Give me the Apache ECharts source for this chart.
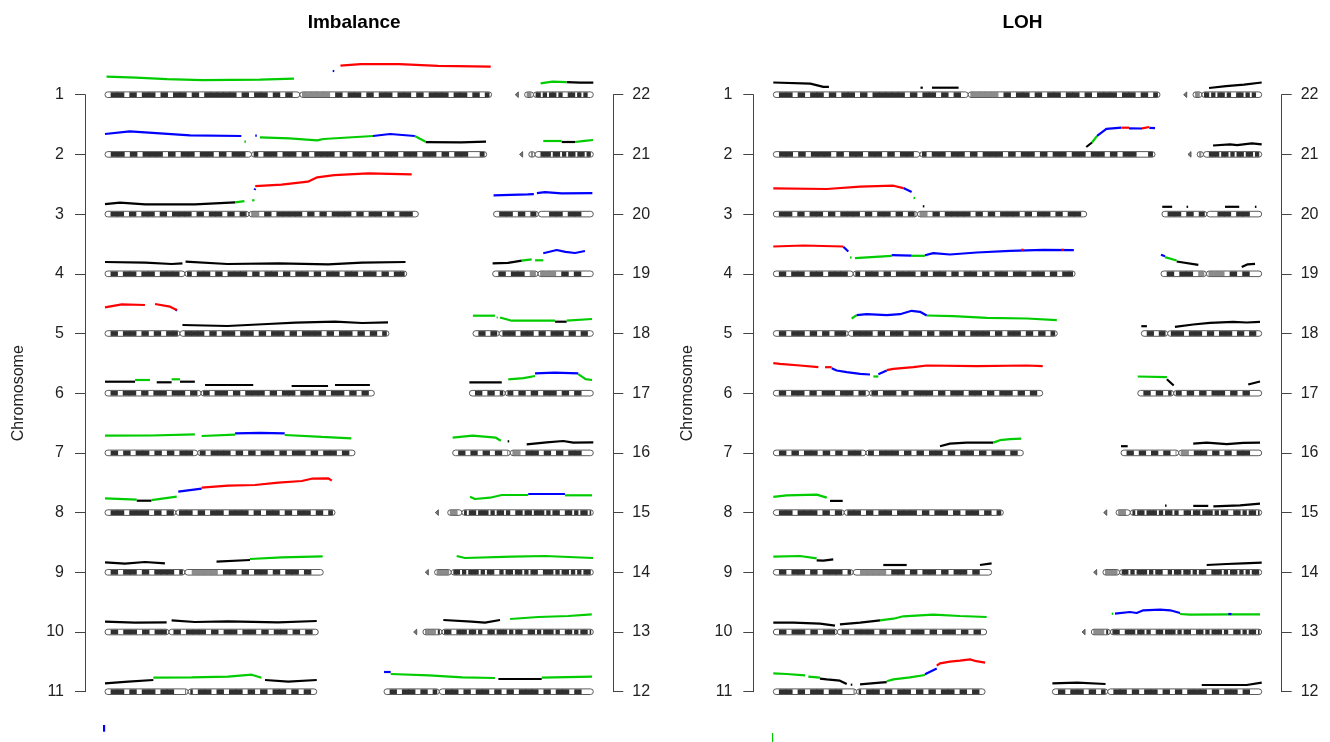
<!DOCTYPE html>
<html><head><meta charset="utf-8">
<script src="https://cdn.jsdelivr.net/npm/echarts/dist/echarts.min.js"></script>
<style>html,body{margin:0;padding:0;background:#fff}#c{width:1330px;height:742px}</style>
</head><body><div id="c"></div>
<script>
// ---------------- data ----------------
const TITLES = ['Imbalance', 'LOH'];
const AXIS_NAME = 'Chromosome';
const LEFT_TICKS = [1, 2, 3, 4, 5, 6, 7, 8, 9, 10, 11];
const RIGHT_TICKS = [12, 13, 14, 15, 16, 17, 18, 19, 20, 21, 22];
// chromosome lengths (Mb) and centromere positions (Mb), chromosomes 1..22
const CHR_LEN = [249.6, 246.4, 202.3, 194.8, 183.3, 173.9, 161.4, 148.5, 140.9, 137.7, 136.7,
                 135.1, 116, 108.5, 102, 90.8, 80, 77.7, 65, 64.4, 47.6, 50.4];
const CHR_CEN = [125.8, 94.6, 93, 51.6, 48.4, 62, 59.8, 45.8, 51.6, 41.3, 53.7,
                 35.7, 18.3, 16.8, 17.2, 37.2, 23.2, 17, 29.3, 29, 10, 11.8];
// band pattern: d = dark, g = grey, . = light, space = gap (acrocentric stalk)
const BANDS = [
  '.dd.d.dd.d.dd.d.ddddd.d.dd.d.d.ggggg.d.dd.d.dd.dd.d.ddd.dd.d.d',
  '.dd.d.ddd.d.dd.dd.d.dd.d.dd.dd.d.ddd.d.dd.d.dd.dd.dd.d.dd..d',
  '.dd.d.dd.d.ddd.d.dd.d.dgg.d.dddd.d.d.ddd.d.dd.d.dd.',
  '.d.dd.dd.ddd.d.dd.d.ddd.d.dd.d.dd.d.dd.dd.dd.d.dd',
  '.d.dd.d.d.dd.ddd.d.dd.dd.d.dd.d.ddd.d.dd.d.d.d',
  '.d.dd.d.dd.dd.d.d.dd.d.ddd.d.dd.dd.d.dd.d.d.',
  '.d.d.dd.d.d.dd.d.ddd.d.d.dd.d.dd.d.dd.d.',
  '.dd.ddd.d.d.dd.d.dd.ddd.d.dd.d.dd.d.d',
  '.d.dd.d.ddd.d.gggg.dd.d.dd.d.dd.d..',
  '.d.dd.d.dd.d.ddd.d.dd.dd.d.dd.d.d.',
  '.dd.d.dd.dd..d.dd.d.dd.d.d.dd.d.d.',
  '.d.dd.d.d.dd.d.dd.d.d.ddd.d.dd.d..',
  'g  gggg.d.dd..ddd.dd.d..dd.ddd.d.dd..dd.d.ddd.d..dd.d.dd.d',
  'g  ggggg.dd.d.ddd.d.dd..d.dd.dd.d.dd..ddd.d.dd.d.d.dd.',
  'g   ggg..d.dd.ddd.d.dd.d..dd.dd.ddd.d.dd..dd.d.dd.d',
  '.d.d.d.d.gg.dd.d.d.dd..',
  '.d.d.dd.d.d.dd.d.d..',
  '.d.d.dd.dd.d.dd.d.d.',
  '.d.dd.gggg.d.d..',
  '.dd.d.d..dd.dd..',
  'g  gg..ddd.dd.d.dd.dd.d.',
  'g  gg.dd.d.dd.d..dd.d.d..'
];
const LEVEL_PER_ROW = 59.7;   // signal units spanned by one chromosome row

// traces: [colour, pos, level, pos, level, ...]   (pos in Mb along the chromosome)
const imb1 = [['g',1,18, 20,17, 40,15.5, 63,14.5, 100,15, 122,16], ['b',147,23.7, 148,23.7],
  ['r',152,29, 165,30.5, 190,30.5, 215,28.8, 249,28]];
const imb2 = [['b',0,20.4, 16,23, 55,19, 88,18.4], ['g',90,12.7, 91,12.7], ['b',97,18.7, 98,18.7],
  ['g',100,17, 119,16, 137,14, 141,15.4, 173,18.4], ['b',173,18.4, 184,20.4, 200,18.4],
  ['g',200,18.4, 207,12.7], ['k',207,12.3, 230,12, 246,12.7]];
const imb3 = [['k',0,10, 9.7,11.4, 26,9.8, 58,9.8, 84,11.8], ['g',84,11.8, 90,13], ['g',95,13.8, 96.5,13.8],
  ['b',96.5,24, 97,25.5], ['r',97,28, 114,29.4, 131,32.4, 137,36.8, 148,39, 170,40.8, 198,39.8]];
const imb4 = [['k',0,11.8, 26,11.1, 43,9.8, 50,10.5], ['k',52,12.1, 79,9.8, 112,10.5, 144,9.5, 166,11.1, 194,11.8]];
const imb5 = [['r',0,26.2, 10.8,29.2, 25.8,28.5], ['r',32.3,29.5, 42,26.8, 46.3,23.5], ['b',45.5,24, 46.5,23],
  ['k',50,8.5, 79,7.5, 105,9.5, 123,10.8, 148.5,11.8, 166,10.5, 182.7,11.2]];
const imb6 = [['k',0,11.5, 19.4,11.5], ['g',19.4,13.2, 29,13.2], ['k',33.4,10.9, 43,10.9], ['g',43,13.9, 48.4,13.9],
  ['k',48.4,11.5, 58,11.5], ['k',64.6,8.2, 95.7,8.2], ['k',120.5,7.2, 144,7.2], ['k',148.5,8.2, 171,8.2]];
const imb7 = [['g',0,17.2, 30,17.4, 58,18.6], ['g',62.4,16.9, 84,18.2], ['b',84,19.6, 100,20, 116,19.6],
  ['g',116,17.9, 140,16, 159,14.6]];
const imb8 = [['g',0,14.3, 20.5,12.9], ['k',20.5,11.9, 30,11.9], ['g',30,12.5, 46.3,15.9], ['b',47.3,20.9, 62.4,23.9],
  ['r',62.4,24.9, 79.4,26.9, 96.8,27.6, 111.9,29.9, 127,31.6, 133.4,33.9, 144.2,34.3, 146.4,31.9]];
const imb9 = [['k',0,10, 12.9,8.6, 25.8,10.3, 38.7,9], ['k',72,10.6, 93.6,12.3], ['g',93.6,13.3, 114,15, 140.5,16]];
const imb10 = [['k',0,10.3, 19.4,9.3, 39.8,9.6], ['k',43,11.7, 58,10, 79.4,10.7, 111.7,9.7, 136.7,11]];
const imb11 = [['k',0,8.4, 15,10, 31.2,11.7], ['g',31.2,14, 56,14.4, 79.4,15, 94.7,17, 101,14],
  ['k',103.3,11.7, 118.3,10, 136.7,11.7]];
const imb12 = [['b',0,19.7, 4.3,19.7], ['g',4.3,17.7, 29,16.4, 50.6,14.4, 71.6,13.7], ['k',73.8,12.7, 101.8,12.7],
  ['g',101.8,14, 134.3,15]];
const imb13 = [['k',19.2,12, 37.5,10.3, 46.1,9.3, 55.8,12], ['g',62.3,13, 80.5,15, 99.9,16, 115,17.7]];
const imb14 = [['g',20.3,16.3, 25.7,14.3, 55.8,15.6, 77.3,16.3, 108.3,14.3]];
const imb15 = [['g',22.4,15.9, 25.6,13.6, 35.3,14.9, 42.9,17.6, 60,17.6], ['b',60,18.6, 83.7,18.6], ['g',83.7,17.3, 101.2,17.3]];
const imb16 = [['g',0,15.2, 12.9,17.2, 27.9,15.2, 31.1,12.2], ['k',35.5,11.6, 36.5,11.6],
  ['k',47.8,8.6, 60.7,10.6, 71.4,11.9, 77.9,10.2, 90.8,10.6]];
const imb17 = [['k',0,10.9, 20.9,10.9], ['g',25.1,13.9, 35,15, 42.4,17.2], ['b',42.4,19.9, 55,20.5, 70.3,19.9],
  ['g',70.3,19, 75,14, 79.2,13.2]];
const imb18 = [['g',0,17.8, 14.2,17.8], ['g',15.3,16, 16,16], ['g',17.5,16, 25,12.8, 53,12.8], ['k',53,11.8, 60.5,11.8],
  ['g',60.5,12.8, 76.9,14.5]];
const imb19 = [['k',0,10.5, 10,11, 18.8,13.1], ['g',18.8,13.1, 25.2,14.5], ['g',27.4,13.5, 32.7,13.5],
  ['b',32.7,20.5, 41.4,23.8, 47,22, 53.2,20.8, 59.6,22.8]];
const imb20 = [['b',0,18.8, 22,19.8, 26,20], ['b',28,21, 33.2,22, 43.9,20.8, 63.8,21]];
const imb21 = [['g',15.3,13.4, 27.2,13.4], ['k',27.2,12.4, 35.8,12.4], ['g',35.8,12.4, 42,13.5, 47.4,14.4]];
const imb22 = [['g',16.4,11.4, 24,13, 33.2,12.5], ['k',33.2,12.5, 42,12, 50.4,12]];
const imbX = [['b',-0.6,26.4, -0.6,19.7]];

const loh1 = [['k',0,12.2, 23.9,11.1, 32.3,7.8, 35.9,7.8], ['k',95,7, 96.5,7], ['k',102.4,7, 119.6,7]];
const loh2 = [['k',202,7.4, 205.7,11.9], ['g',205.7,11.9, 209,18.5], ['b',209,18.5, 215,25.6, 224.7,26.7],
  ['r',224.7,26.7, 229.6,26.7], ['b',229.6,26, 238,25.9], ['r',238,26, 242.7,27.4], ['b',242.7,26.5, 246.4,26.3]];
const loh3 = [['r',0,25.8, 34.5,25.1, 56,27.4, 77.5,28.4, 84,26], ['b',84,26, 89.3,22.1], ['g',90.5,16.1, 91.5,16.1],
  ['k',96.5,7.8, 97.5,7.8]];
const loh4 = [['r',0,27.3, 19.4,28.3, 45.2,27.3], ['b',45.2,27, 48.4,22.3], ['g',49.5,16.3, 50.5,16.3],
  ['g',52.7,15.7, 76.4,18], ['b',76.4,18.7, 89.3,18.2], ['g',89.3,18, 97.9,18],
  ['b',97.9,18.5, 103.3,20.7, 114,19.3, 131.3,21.3, 152.8,23, 174.3,24, 194,23.7], ['r',160,24, 161.5,24], ['r',186,24, 187.5,24]];
const loh5 = [['g',50.6,15, 53.8,18.3], ['b',53.8,18.3, 60.3,19.3, 73.2,18.3, 81.8,19.3, 89.3,22.7, 94.7,21.7, 99,18],
  ['g',99,18, 116.2,17.3, 137.8,15.7, 163.6,15, 183,13.3]];
const loh6 = [['r',0,30, 4.3,29.3, 17.2,27.7, 29.1,26], ['r',33.4,26, 37.7,26],
  ['b',37.7,25, 40.9,22.7, 47.4,21, 56,19.3, 62.4,18.7], ['g',64.6,16.7, 67.8,16.7], ['b',67.8,19, 73.2,22.7],
  ['r',73.2,23, 77.5,24.3, 90.4,26, 99,27.7, 131.3,27, 163.6,27.7, 173.9,27]];
const loh7 = [['k',107.6,6.7, 114,9.3, 124.8,10.3, 142,10.3], ['g',142,10.3, 146.3,12.7, 152.8,13.7, 160,14.3]];
const loh8 = [['g',0,15.7, 8.6,17.3, 28,18, 34.5,15], ['k',36.6,11.7, 44.8,11.7]];
const loh9 = [['g',0,15.7, 17.2,16.3, 28,14], ['k',28,12, 32.3,11.7, 38.7,13], ['k',71,7.3, 86.1,7.3], ['k',133.4,7.3, 140.9,9]];
const loh10 = [['k',0,9.3, 12.9,9.3, 30.1,8.3, 39.8,6.3], ['k',43,7.7, 56,9.3, 68.9,11.7],
  ['g',68.9,11.7, 77.5,13.3, 83.9,15.7, 94.7,16.7, 103.3,17.3, 120.5,16, 137.7,15]];
const loh11 = [['g',0,18.3, 8.6,17.7, 20.5,16.3], ['g',22.6,15, 30.1,14], ['k',30.1,13, 34.5,12.3, 43,11, 47.4,7.7],
  ['k',50,7, 51,7], ['k',56,7.3, 68.9,9, 73.2,9.5], ['g',73.2,10.5, 77.5,12.3, 88.2,14.3, 97.9,16.7],
  ['b',97.9,17.5, 105.5,23.3], ['r',105.5,26, 107.6,28.3, 114,30, 120.5,31, 127,32.3, 131,30.5, 136.7,29]];
const loh12 = [['k',0,8.3, 16.1,9, 34.3,7.7], ['k',96.4,6.7, 125.4,6.7, 135.1,9]];
const loh13 = [['g',19.2,18.3, 20.2,18.3], ['b',21.3,18.3, 31,20, 35.3,19, 39.6,21.7, 50.4,22.3, 56.9,21.7, 63.3,19],
  ['g',63.3,18, 69.7,17.3, 95.5,17.7, 114.9,17.7], ['b',94.5,18, 96.5,18]];
const loh14 = [['k',73,7.3, 85.9,8.3, 96.6,9, 108.5,9.7]];
const loh15 = [['k',39.6,7, 40.6,7], ['k',57.8,6.7, 67.5,6.7], ['k',70.8,6.3, 88,7.3, 100.9,9]];
const loh16 = [['k',0,6.7, 4.3,6.7], ['k',46.6,9.3, 55.3,10.3, 68.2,8.7, 78.9,10, 89.7,10.3]];
const loh17 = [['g',0,16.7, 18.8,16], ['k',18.8,14, 23.2,7.7], ['k',71.3,8.7, 78.9,11.7]];
const loh18 = [['k',0,7.3, 3.6,7.3], ['k',21.7,6.7, 33.5,9, 44.3,10.7, 59.3,11.7, 68,11, 76.6,11.7]];
const loh19 = [['b',0,19, 2.6,17.5], ['g',2.6,16.7, 10.1,13.3], ['k',10.1,12.3, 24.1,9], ['k',52.1,6.7, 56,9.5, 60.7,10]];
const loh20 = [['k',0.2,7.3, 6.6,7.3], ['k',15.9,7.3, 16.9,7.3], ['k',40.7,7.3, 49.9,7.3], ['k',60,7.3, 61,7.3]];
const loh21 = [['k',16.2,8.9, 27.2,10, 31.7,9.3, 41.3,11.1, 47.6,10]];
const loh22 = [['k',16.4,6.7, 27.4,8.5, 39,10, 50.4,12.2]];
const lohX = [['g',-0.8,18.4, -0.8,9.4]];

const IMB = [imb1, imb2, imb3, imb4, imb5, imb6, imb7, imb8, imb9, imb10, imb11, imb12, imb13, imb14, imb15,
             imb16, imb17, imb18, imb19, imb20, imb21, imb22, imbX];
const LOH = [loh1, loh2, loh3, loh4, loh5, loh6, loh7, loh8, loh9, loh10, loh11, loh12, loh13, loh14, loh15,
             loh16, loh17, loh18, loh19, loh20, loh21, loh22, lohX];
const COLORS = {k: '#000000', r: '#ff0000', g: '#00cc00', b: '#0000ff'};

// ---------------- layout ----------------
const FONT = '"Liberation Sans", Arial, sans-serif';
const PANELS = [[105, 593.3], [773.3, 1261.7]];
const PX_PER_MB = 1.549;
const XMAX = (PANELS[0][1] - PANELS[0][0]) / PX_PER_MB;
const TOP = 94.7, BOTTOM = 742 - 691.7;

function isLeft(i) { return i < 11 || i === 22; }
function rowOf(i) { return i < 11 ? i + 1 : (i < 22 ? 22 - i : 12); }
function originOf(i) { return isLeft(i) ? 0 : XMAX - CHR_LEN[i]; }

function ideogram(params, api) {
  const i = api.value(0);
  const len = CHR_LEN[i], cen = CHR_CEN[i], s = BANDS[i];
  const row = rowOf(i), x0 = originOf(i);
  const unit = len / s.length;
  const H = 5.6, r = H / 2;
  const cy = api.coord([x0, row])[1];
  const X = mb => api.coord([x0 + mb, row])[0];
  const kids = [];
  const pieces = [];
  for (let k = 0; k < s.length;) {
    if (s[k] === ' ') { k++; continue; }
    let j = k; while (j < s.length && s[j] !== ' ') j++;
    pieces.push([k * unit, j * unit]); k = j;
  }
  pieces.forEach((pc, pi) => {
    if (pieces.length > 1 && pi === 0) {
      const xa = X(pc[0]), xb = X(pc[1]);
      kids.push({type: 'polygon', shape: {points: [[xa, cy], [xb, cy - r], [xb, cy + r]]},
        style: {fill: '#7a7a7a', stroke: '#444', lineWidth: 0.8}});
      return;
    }
    const arms = (cen > pc[0] + 0.5 && cen < pc[1] - 0.5) ? [[pc[0], cen], [cen, pc[1]]] : [pc];
    arms.forEach(arm => {
      const xa = X(arm[0]), xb = X(arm[1]);
      kids.push({type: 'rect', shape: {x: xa, y: cy - r, width: xb - xa, height: H, r: r},
        style: {fill: '#fff', stroke: 'none'}});
      const lo = xa + r * 0.75, hi = xb - r * 0.75;
      for (let c = Math.floor(arm[0] / unit + 1e-9); c < Math.ceil(arm[1] / unit - 1e-9); c++) {
        const ch = s[c];
        if (ch !== 'd' && ch !== 'g') continue;
        const p0 = Math.max(X(Math.max(c * unit, arm[0])) - 0.6, lo);
        const p1 = Math.min(X(Math.min((c + 1) * unit, arm[1])) + 0.6, hi);
        if (p1 <= p0) continue;
        kids.push({type: 'rect', shape: {x: p0, y: cy - r + 0.4, width: p1 - p0, height: H - 0.8},
          style: {fill: ch === 'd' ? '#303030' : '#8c8c8c'}});
      }
      kids.push({type: 'rect', shape: {x: xa, y: cy - r, width: xb - xa, height: H, r: r},
        style: {fill: 'none', stroke: '#4a4a4a', lineWidth: 0.9}});
    });
  });
  return {type: 'group', children: kids};
}

function traceSeries(traces, g) {
  const out = [];
  ['k', 'g', 'b', 'r'].forEach(col => {
    traces.forEach((runs, i) => {
      runs.forEach(run => {
        if (run[0] !== col) return;
        const pts = [];
        for (let k = 1; k < run.length; k += 2) {
          pts.push([originOf(i) + run[k], rowOf(i) - run[k + 1] / LEVEL_PER_ROW]);
        }
        out.push({type: 'line', xAxisIndex: g, yAxisIndex: 2 * g, data: pts, symbol: 'none', showSymbol: false,
          lineStyle: {color: COLORS[col], width: 2.2}, clip: false, silent: true, animation: false, z: 3});
      });
    });
  });
  return out;
}

const grids = [], xAxes = [], yAxes = [], series = [], titles = [];
PANELS.forEach((p, g) => {
  grids.push({left: p[0], right: 1330 - p[1], top: TOP, bottom: BOTTOM, containLabel: false});
  xAxes.push({gridIndex: g, type: 'value', min: 0, max: XMAX, show: false});
  const common = {
    gridIndex: g, type: 'value', interval: 1, offset: 20,
    axisLine: {show: true, onZero: false, lineStyle: {color: '#444', width: 1}},
    axisTick: {show: true, length: 10, lineStyle: {color: '#444', width: 1}},
    splitLine: {show: false}
  };
  yAxes.push(Object.assign({}, common, {
    min: LEFT_TICKS[0], max: LEFT_TICKS[LEFT_TICKS.length - 1], inverse: true, position: 'left',
    axisLabel: {margin: 21, fontSize: 16, color: '#222', fontFamily: FONT},
    name: AXIS_NAME, nameLocation: 'middle', nameGap: 58,
    nameTextStyle: {fontSize: 16, color: '#222', fontFamily: FONT}
  }));
  yAxes.push(Object.assign({}, common, {
    min: RIGHT_TICKS[0], max: RIGHT_TICKS[RIGHT_TICKS.length - 1], position: 'right',
    axisLabel: {margin: 19, fontSize: 16, color: '#222', fontFamily: FONT}
  }));
  titles.push({text: TITLES[g], left: (p[0] + p[1]) / 2, top: 8, textAlign: 'center',
    textStyle: {fontSize: 19, fontWeight: 'bold', color: '#000', fontFamily: FONT}});
  series.push({type: 'custom', xAxisIndex: g, yAxisIndex: 2 * g, coordinateSystem: 'cartesian2d',
    renderItem: ideogram, silent: true, animation: false, z: 1,
    encode: {x: 1, y: 2},
    data: CHR_LEN.map((l, i) => [i, originOf(i), rowOf(i)])});
  series.push(...traceSeries(g === 0 ? IMB : LOH, g));
});

const chart = echarts.init(document.getElementById('c'), null, {renderer: 'canvas'});
chart.setOption({
  backgroundColor: '#fff', animation: false,
  title: titles, grid: grids, xAxis: xAxes, yAxis: yAxes, series: series, tooltip: {show: false}
});
</script></body></html>
